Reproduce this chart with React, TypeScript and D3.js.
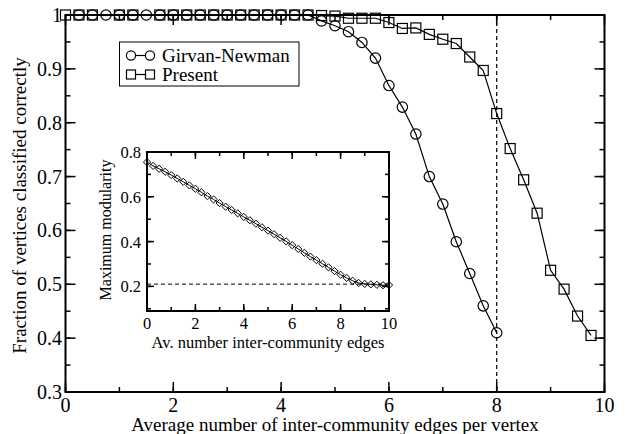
import React from 'react';
import * as d3 from 'd3';

// Girvan-Newman: fraction classified correctly vs. inter-community edges
const gnX = [0.25, 0.5, 0.75, 1, 1.25, 1.5, 1.75, 2, 2.25, 2.5, 2.75, 3, 3.25, 3.5, 3.75, 4, 4.25,
  4.5, 4.75, 5, 5.25, 5.5, 5.75, 6, 6.25, 6.5, 6.75, 7, 7.25, 7.5, 7.75, 8];
const gnY = [1, 1, 1, 1, 1, 1, 1, 1, 1, 1, 1, 1, 1, 1, 1, 1, 1,
  1, 0.989, 0.98, 0.969, 0.949, 0.92, 0.869, 0.829, 0.779, 0.70, 0.649, 0.579, 0.52, 0.46, 0.41];

// Present method
const prX = [0, 0.25, 0.5, 1, 1.25, 1.75, 2, 2.25, 2.5, 2.75, 3, 3.25, 3.5, 3.75, 4, 4.25,
  4.5, 4.75, 5, 5.25, 5.5, 5.75, 6, 6.25, 6.5, 6.75, 7, 7.25, 7.5, 7.75, 8, 8.25, 8.5, 8.75,
  9, 9.25, 9.5, 9.75];
const prY = [1, 1, 1, 1, 1, 1, 1, 1, 1, 1, 1, 1, 1, 1, 1, 1,
  1, 0.999, 0.998, 0.994, 0.994, 0.994, 0.986, 0.975, 0.976, 0.964, 0.955, 0.947, 0.922, 0.897,
  0.817, 0.752, 0.694, 0.632, 0.526, 0.491, 0.441, 0.405];

// inset: maximum modularity
const modX = [0, 0.25, 0.5, 0.75, 1, 1.25, 1.5, 1.75, 2, 2.25, 2.5, 2.75, 3, 3.25, 3.5, 3.75, 4,
  4.25, 4.5, 4.75, 5, 5.25, 5.5, 5.75, 6, 6.25, 6.5, 6.75, 7, 7.25, 7.5, 7.75, 8, 8.25, 8.5,
  8.75, 9, 9.25, 9.5, 9.75, 10];
const modY = [0.755, 0.738, 0.725, 0.712, 0.697, 0.682, 0.667, 0.651, 0.636, 0.62, 0.603, 0.588,
  0.572, 0.556, 0.541, 0.526, 0.51, 0.495, 0.48, 0.464, 0.449, 0.433, 0.417, 0.401, 0.384, 0.367,
  0.35, 0.333, 0.317, 0.301, 0.285, 0.268, 0.252, 0.238, 0.225, 0.215, 0.211, 0.209, 0.207,
  0.205, 0.206];
const modRef = 0.21;
const cutX = 8;

const mainXTicks = [0, 2, 4, 6, 8, 10];
const mainYTicks = [0.3, 0.4, 0.5, 0.6, 0.7, 0.8, 0.9, 1];
const insetXTicks = [0, 2, 4, 6, 8, 10];
const insetYTicks = [0.2, 0.4, 0.6, 0.8];

const FONT = '"Liberation Serif", "Times New Roman", serif';

const App: React.FC = () => {
  const x = d3.scaleLinear().domain([0, 10]).range([65.5, 604.5]);
  const y = d3.scaleLinear().domain([0.3, 1]).range([392, 15]);
  const ix = d3.scaleLinear().domain([0, 10]).range([147, 389]);
  const iy = d3.scaleLinear().domain([0.09, 0.8]).range([311, 152]);

  const gn = gnX.map((v, i) => [v, gnY[i]] as [number, number]);
  const pr = prX.map((v, i) => [v, prY[i]] as [number, number]);
  const md = modX.map((v, i) => [v, modY[i]] as [number, number]);

  const line = d3.line<[number, number]>().x(d => x(d[0])).y(d => y(d[1]));
  const iline = d3.line<[number, number]>().x(d => ix(d[0])).y(d => iy(d[1]));

  const [x0, x1] = x.range();
  const [y0, y1] = y.range();
  const [ix0, ix1] = ix.range();
  const [iy0, iy1] = iy.range();

  const mxMinor = d3.range(0, 10.01, 1);
  const myMinor = d3.range(0.3, 1.001, 0.05);
  const ixMinor = d3.range(0, 10.01, 1);
  const iyMinor = d3.range(0.1, 0.801, 0.1);

  const ticksX = (vals: number[], sx: (v: number) => number, top: number, bot: number, len: number, key: string) =>
    vals.map(v => (
      <g key={key + v}>
        <line x1={sx(v)} x2={sx(v)} y1={bot} y2={bot - len} stroke="#000" strokeWidth={1.5} />
        <line x1={sx(v)} x2={sx(v)} y1={top} y2={top + len} stroke="#000" strokeWidth={1.5} />
      </g>
    ));
  const ticksY = (vals: number[], sy: (v: number) => number, left: number, right: number, len: number, key: string) =>
    vals.map(v => (
      <g key={key + v}>
        <line x1={left} x2={left + len} y1={sy(v)} y2={sy(v)} stroke="#000" strokeWidth={1.5} />
        <line x1={right} x2={right - len} y1={sy(v)} y2={sy(v)} stroke="#000" strokeWidth={1.5} />
      </g>
    ));

  const sq = 10;
  const cr = 5.2;

  return (
    <svg width={625} height={434} style={{ position: 'absolute', left: 0, top: 0, background: '#fff' }}
      fontFamily={FONT}>
      <rect width={625} height={434} fill="#fff" />

      {/* main frame ticks */}
      {ticksX(mxMinor, x, y1, y0, 5, 'mxm')}
      {ticksX(mainXTicks, x, y1, y0, 10, 'mx')}
      {ticksY(myMinor, y, x0, x1, 5, 'mym')}
      {ticksY(mainYTicks, y, x0, x1, 10, 'my')}

      {/* dashed cut-off */}
      <line x1={x(cutX)} x2={x(cutX)} y1={y1} y2={y0} stroke="#000" strokeWidth={1.2} strokeDasharray="4,3" />

      {/* series */}
      <path d={line(gn) || ''} fill="none" stroke="#000" strokeWidth={1.2} />
      <path d={line(pr) || ''} fill="none" stroke="#000" strokeWidth={1.2} />
      {gn.map((d, i) => (
        <circle key={'gn' + i} cx={x(d[0])} cy={y(d[1])} r={cr} fill="none" stroke="#000" strokeWidth={1.2} />
      ))}
      {pr.map((d, i) => (
        <rect key={'pr' + i} x={x(d[0]) - sq / 2} y={y(d[1]) - sq / 2} width={sq} height={sq}
          fill="none" stroke="#000" strokeWidth={1.2} />
      ))}

      <rect x={x0} y={y1} width={x1 - x0} height={y0 - y1} fill="none" stroke="#000" strokeWidth={2} />

      {/* main tick labels */}
      {mainXTicks.map(v => (
        <text key={'mxl' + v} x={x(v)} y={412} fontSize={20} textAnchor="middle">{v}</text>
      ))}
      {mainYTicks.map(v => (
        <text key={'myl' + v} x={62} y={y(v) + 7} fontSize={20} textAnchor="end">{v === 1 ? '1' : v.toFixed(1)}</text>
      ))}
      <text x={(x0 + x1) / 2} y={431} fontSize={19} textAnchor="middle">
        Average number of inter-community edges per vertex
      </text>
      <text transform={`translate(26,${(y0 + y1) / 2 + 2}) rotate(-90)`} fontSize={19} textAnchor="middle">
        Fraction of vertices classified correctly
      </text>

      {/* legend */}
      <rect x={119.5} y={42} width={179.5} height={44} fill="#fff" stroke="#000" strokeWidth={1} />
      <line x1={131} x2={150} y1={55.5} y2={55.5} stroke="#000" strokeWidth={1.2} />
      <circle cx={131} cy={55.5} r={4.6} fill="#fff" stroke="#000" strokeWidth={1.2} />
      <circle cx={150} cy={55.5} r={4.6} fill="#fff" stroke="#000" strokeWidth={1.2} />
      <text x={162} y={62} fontSize={19}>Girvan-Newman</text>
      <line x1={131} x2={150} y1={74.5} y2={74.5} stroke="#000" strokeWidth={1.2} />
      <rect x={126.5} y={70} width={9} height={9} fill="#fff" stroke="#000" strokeWidth={1.2} />
      <rect x={145.5} y={70} width={9} height={9} fill="#fff" stroke="#000" strokeWidth={1.2} />
      <text x={162} y={81} fontSize={19}>Present</text>

      {/* inset */}
      <rect x={ix0} y={iy1} width={ix1 - ix0} height={iy0 - iy1} fill="#fff" />
      {ticksX(ixMinor, ix, iy1, iy0, 4, 'ixm')}
      {ticksX(insetXTicks, ix, iy1, iy0, 7, 'ix')}
      {ticksY(iyMinor, iy, ix0, ix1, 4, 'iym')}
      {ticksY(insetYTicks, iy, ix0, ix1, 7, 'iy')}
      <line x1={ix(0)} x2={ix(10)} y1={iy(modRef)} y2={iy(modRef)} stroke="#000" strokeWidth={1} strokeDasharray="4,3" />
      <path d={iline(md) || ''} fill="none" stroke="#000" strokeWidth={1} />
      {md.map((d, i) => {
        const cx = ix(d[0]);
        const cy = iy(d[1]);
        const h = 3.6;
        return (
          <path key={'md' + i} d={`M${cx},${cy - h}L${cx + h},${cy}L${cx},${cy + h}L${cx - h},${cy}Z`}
            fill="none" stroke="#000" strokeWidth={1} />
        );
      })}
      <rect x={ix0} y={iy1} width={ix1 - ix0} height={iy0 - iy1} fill="none" stroke="#000" strokeWidth={2} />
      {insetXTicks.map(v => (
        <text key={'ixl' + v} x={ix(v)} y={329} fontSize={16.5} textAnchor="middle">{v}</text>
      ))}
      {insetYTicks.map(v => (
        <text key={'iyl' + v} x={141} y={iy(v) + 6} fontSize={16.5} textAnchor="end">{v.toFixed(1)}</text>
      ))}
      <text x={(ix0 + ix1) / 2} y={348} fontSize={16.5} textAnchor="middle">Av. number inter-community edges</text>
      <text transform={`translate(111,230) rotate(-90)`} fontSize={16} textAnchor="middle">Maximum modularity</text>
    </svg>
  );
};

export default App;
